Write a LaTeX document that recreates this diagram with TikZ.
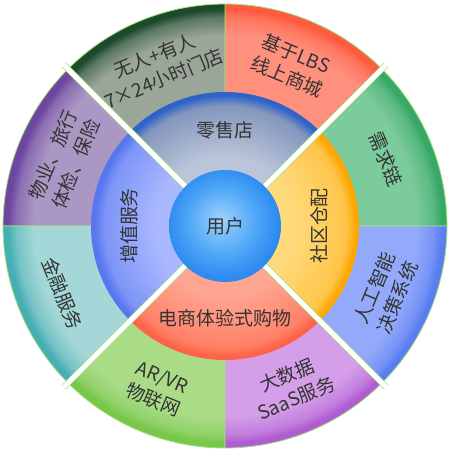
\documentclass[tikz,border=0pt]{standalone}
\usepackage{fontspec}
\setmainfont{Noto Sans CJK SC}

% Colori
\definecolor{textgray}{HTML}{333333}
\definecolor{seamgreen}{HTML}{A6E07E}
\definecolor{needlight}{HTML}{7CCB9C}  \definecolor{needrim}{HTML}{37A866}
\definecolor{lbslight}{HTML}{FF907E}   \definecolor{lbsrim}{HTML}{FF5B3E}
\definecolor{storelight}{HTML}{9AA698} \definecolor{storerim}{HTML}{1D4A2D}
\definecolor{lifelight}{HTML}{AB97C4}  \definecolor{liferim}{HTML}{6C46A0}
\definecolor{finlight}{HTML}{A4D7D7}   \definecolor{finrim}{HTML}{47AFB4}
\definecolor{arlight}{HTML}{AADC88}    \definecolor{arrim}{HTML}{78C74B}
\definecolor{saaslight}{HTML}{D49EE8}  \definecolor{saasrim}{HTML}{B05CD2}
\definecolor{ailight}{HTML}{93AAFB}    \definecolor{airim}{HTML}{5A7DF2}
\definecolor{retaillight}{HTML}{BAC5D9} \definecolor{retailmid}{HTML}{8396BC} \definecolor{retailrim}{HTML}{2F63CA}
\definecolor{depotlight}{HTML}{FFDA7A}  \definecolor{depotmid}{HTML}{FFC54A}  \definecolor{depotrim}{HTML}{FFA600}
\definecolor{valuelight}{HTML}{AAB8FF}  \definecolor{valuemid}{HTML}{7D95F8}  \definecolor{valuerim}{HTML}{5876EE}
\definecolor{ecomlight}{HTML}{FFA692}   \definecolor{ecommid}{HTML}{FF8168}   \definecolor{ecomrim}{HTML}{FF6246}
\definecolor{userlight}{HTML}{9FD2FD}  \definecolor{usermid}{HTML}{4FA7F7}  \definecolor{userrim}{HTML}{2D8BF0}

% Sfumature degli anelli (25bp = raggio)
\newcommand{\ringshading}[3]{%
  \pgfdeclareradialshading{#1}{\pgfpointorigin}{%
    color(0bp)=(#2); color(21.5bp)=(#2); color(23.5bp)=(#2!50!#3);
    color(24.4bp)=(#3); color(25bp)=(#3); color(50bp)=(#3)}}
\newcommand{\hubshading}[4]{%
  \pgfdeclareradialshading{#1}{\pgfpointorigin}{%
    color(0bp)=(#2); color(13bp)=(#2); color(22.5bp)=(#3);
    color(24.4bp)=(#4); color(25bp)=(#4); color(50bp)=(#4)}}

\ringshading{needshade}{needlight}{needrim}
\ringshading{lbsshade}{lbslight}{lbsrim}
\ringshading{storeshade}{storelight}{storerim}
\ringshading{lifeshade}{lifelight}{liferim}
\ringshading{finshade}{finlight}{finrim}
\ringshading{arshade}{arlight}{arrim}
\ringshading{saasshade}{saaslight}{saasrim}
\ringshading{aishade}{ailight}{airim}
\hubshading{retailshade}{retaillight}{retailmid}{retailrim}
\hubshading{depotshade}{depotlight}{depotmid}{depotrim}
\hubshading{valueshade}{valuelight}{valuemid}{valuerim}
\hubshading{ecomshade}{ecomlight}{ecommid}{ecomrim}
\pgfdeclareradialshading{usershade}{\pgfpoint{-2bp}{3bp}}{%
  color(0bp)=(userlight); color(6bp)=(userlight!60!usermid);
  color(15bp)=(usermid); color(25bp)=(userrim); color(50bp)=(userrim)}

% Spicchio: sfumatura, angolo iniziale, angolo finale, raggio, stile bordo
\newcommand{\piesector}[5]{%
  \begin{scope}
    \clip (0,0) -- (#2:#4) arc[start angle=#2, end angle=#3, radius=#4] -- cycle;
    \shade[shading=#1] (0,0) circle (#4);
  \end{scope}
  \draw[#5] (0,0) -- (#2:#4) arc[start angle=#2, end angle=#3, radius=#4] -- cycle;}

\begin{document}
\begin{tikzpicture}[
    outeredge/.style={
        draw=seamgreen,
        line width=0.6pt
    },
    hubedge/.style={
        draw=none
    },
    gap/.style={
        draw=seamgreen,
        line width=0.5pt,
        double=white,
        double distance=3.5pt
    },
    ringtext/.style={
        align=center,
        text=textgray,
        font=\fontsize{13.5}{17.5}\selectfont
    },
    hubtext/.style={
        align=center,
        text=textgray,
        font=\fontsize{13.5}{17.5}\selectfont
    }
]
\useasboundingbox (-5.625,-5.65) rectangle (5.625,5.65);

% Anello esterno
\piesector{needshade}{0}{45}{5.55cm}{outeredge}
\piesector{lbsshade}{45}{90}{5.55cm}{outeredge}
\piesector{storeshade}{90}{135}{5.55cm}{outeredge}
\piesector{lifeshade}{135}{180}{5.55cm}{outeredge}
\piesector{finshade}{180}{225}{5.55cm}{outeredge}
\piesector{arshade}{225}{270}{5.55cm}{outeredge}
\piesector{saasshade}{270}{315}{5.55cm}{outeredge}
\piesector{aishade}{315}{360}{5.55cm}{outeredge}

% Anello interno
\piesector{retailshade}{45}{135}{3.35cm}{hubedge}
\piesector{valueshade}{135}{225}{3.35cm}{hubedge}
\piesector{ecomshade}{225}{315}{3.35cm}{hubedge}
\piesector{depotshade}{-45}{45}{3.35cm}{hubedge}

% Separatori
\draw[gap] (45:1.2) -- (45:5.7);
\draw[gap] (135:1.2) -- (135:5.7);
\draw[gap] (225:1.2) -- (225:5.7);
\draw[gap] (315:1.2) -- (315:5.7);

% Centro
\shade[shading=usershade] (0,0) circle (1.4cm);
\node[hubtext] (user) at (0,0) {用户};

% Etichette anello interno
\node[hubtext] (retail) at (90:2.4) {零售店};
\node[hubtext, rotate=90] (depot) at (0:2.35) {社区仓配};
\node[hubtext, rotate=90] (valueadd) at (180:2.4) {增值服务};
\node[hubtext] (ecom) at (270:2.3) {电商体验式购物};

% Etichette anello esterno
\node[ringtext, rotate=-67.5] (demand) at (22.5:4.35) {需求链};
\node[ringtext, rotate=-22.5] (lbs) at (67.5:4.35) {基于LBS\\线上商城};
\node[ringtext, rotate=22.5] (store) at (112.5:4.3) {无人+有人\\7×24小时门店};
\node[ringtext, rotate=67.5] (life) at (157.5:4.35) {物业、旅行\\体检、保险};
\node[ringtext, rotate=-67.5] (finance) at (202.5:4.4) {金融服务};
\node[ringtext, rotate=-22.5] (arvr) at (247.5:4.4) {AR/VR\\物联网};
\node[ringtext, rotate=22.5] (saas) at (292.5:4.35) {大数据\\SaaS服务};
\node[ringtext, rotate=67.5] (ai) at (337.5:4.35) {人工智能\\决策系统};

\end{tikzpicture}
\end{document}
